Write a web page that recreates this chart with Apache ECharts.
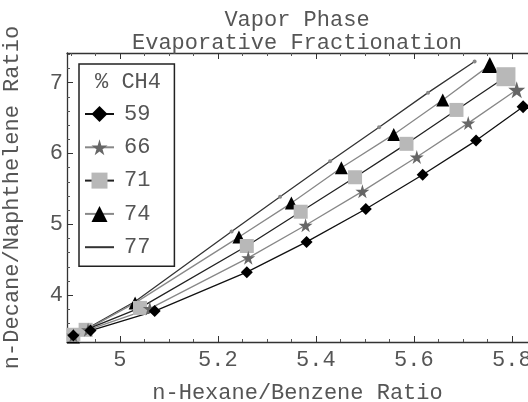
<!DOCTYPE html>
<html>
<head>
<meta charset="utf-8">
<script src="https://cdn.jsdelivr.net/npm/echarts@6/dist/echarts.min.js"></script>
<style>
  html, body { margin: 0; padding: 0; background: #fff; }
  #chart { width: 528px; height: 402px; }
</style>
</head>
<body>
<div id="chart"></div>
<script>
  // % CH4 groups
  const groups = ['59', '66', '71', '74', '77']

  // n-Hexane/Benzene ratio (x) and n-Decane/Naphthelene ratio (y)
  const hexane59 = [4.905, 4.94, 5.071, 5.259, 5.381, 5.502, 5.618, 5.727, 5.823]
  const decane59 = [3.43, 3.50, 3.775, 4.324, 4.752, 5.217, 5.700, 6.183, 6.662]

  const hexane66 = [4.905, 4.935, 5.061, 5.262, 5.379, 5.495, 5.606, 5.711, 5.810]
  const decane66 = [3.43, 3.51, 3.81, 4.527, 4.987, 5.466, 5.951, 6.430, 6.900]

  const hexane71 = [4.905, 4.93, 5.041, 5.259, 5.369, 5.480, 5.585, 5.687, 5.788]
  const decane71 = [3.44, 3.51, 3.82, 4.694, 5.178, 5.665, 6.137, 6.616, 7.085]

  const hexane74 = [4.905, 5.031, 5.243, 5.350, 5.452, 5.559, 5.659, 5.755]
  const decane74 = [3.41, 3.89, 4.820, 5.300, 5.800, 6.270, 6.756, 7.249]

  const hexane77 = [4.905, 5.031, 5.228, 5.327, 5.429, 5.529, 5.629, 5.724]
  const decane77 = [3.42, 3.91, 4.900, 5.390, 5.890, 6.370, 6.860, 7.300]

  const xTitle = 'n-Hexane/Benzene Ratio'
  const yTitle = 'n-Decane/Naphthelene Ratio'
  const titleLines = ['Vapor Phase', 'Evaporative Fractionation']
  const legendTitle = '% CH4'

  const zip = (xs, ys) => xs.map((x, i) => [x, ys[i]])
  const font = '"Liberation Mono", "DejaVu Sans Mono", monospace'
  const textColor = '#555'
  const star = 'path://M50,0 L61,35 L98,35 L68,57 L79,91 L50,70 L21,91 L32,57 L2,35 L39,35 Z'

  const sizeFn = (normal, last, n) => (v, p) => (p.dataIndex === n - 1 ? last : normal)

  const lineSeries = (name, xs, ys, lineColor, symbol, symColor, size, lastSize) => ({
    name: name,
    type: 'line',
    data: zip(xs, ys),
    symbol: symbol,
    symbolSize: sizeFn(size, lastSize, xs.length),
    showAllSymbol: true,
    lineStyle: { color: lineColor, width: 1.3 },
    itemStyle: { color: symColor },
    emphasis: { disabled: true },
    z: 3,
  })

  const axisCommon = {
    type: 'value',
    axisLine: { show: true, lineStyle: { color: '#333', width: 1.3 } },
    axisTick: { show: true, inside: true, length: 6, lineStyle: { color: '#333' } },
    minorTick: { show: true, length: 3, lineStyle: { color: '#555' } },
    splitLine: { show: false },
  }

  const chart = echarts.init(document.getElementById('chart'))
  const option = {
    animation: false,
    backgroundColor: '#fff',
    textStyle: { fontFamily: font },
    grid: { left: 67, right: 0, top: 53, bottom: 60, containLabel: false, outerBoundsMode: 'none' },
    xAxis: [
      Object.assign({}, axisCommon, {
        position: 'bottom',
        min: 4.892,
        max: 5.833,
        splitNumber: 5,
        minorTick: Object.assign({}, axisCommon.minorTick, { splitNumber: 4 }),
        axisLabel: {
          showMinLabel: false, showMaxLabel: false,
          fontSize: 22, color: textColor, fontFamily: font, margin: 7,
        },
        name: xTitle,
        nameLocation: 'middle',
        nameGap: 40,
        nameTextStyle: { fontSize: 22, color: textColor, fontFamily: font },
      }),
      Object.assign({}, axisCommon, {
        position: 'top',
        min: 4.892,
        max: 5.833,
        splitNumber: 5,
        minorTick: Object.assign({}, axisCommon.minorTick, { splitNumber: 4 }),
        axisLabel: { show: false },
      }),
    ],
    yAxis: [
      Object.assign({}, axisCommon, {
        position: 'left',
        min: 3.338,
        max: 7.42,
        splitNumber: 4,
        minorTick: Object.assign({}, axisCommon.minorTick, { splitNumber: 5 }),
        axisLabel: {
          showMinLabel: false, showMaxLabel: false,
          fontSize: 22, color: textColor, fontFamily: font, margin: 4,
        },
        name: yTitle,
        nameLocation: 'middle',
        nameGap: 44,
        nameTextStyle: { fontSize: 22, color: textColor, fontFamily: font },
      }),
    ],
    legend: {
      orient: 'vertical',
      left: 79,
      top: 64,
      padding: [39, 24, 8, 5],
      borderColor: '#222',
      borderWidth: 1.5,
      itemWidth: 29,
      itemHeight: 20,
      itemGap: 11.3,
      selectedMode: false,
      textStyle: { fontSize: 22, color: textColor, fontFamily: font, padding: [0, 0, 0, 5] },
      data: [
        { name: '59' }, { name: '66' }, { name: '71' }, { name: '74' },
        { name: '77', itemStyle: { opacity: 0 } },
      ],
    },
    graphic: [
      {
        type: 'text', x: 297, y: 20, z: 10,
        style: { text: titleLines[0], font: '22px ' + font, fill: textColor, align: 'center', verticalAlign: 'middle' },
      },
      {
        type: 'text', x: 297, y: 43, z: 10,
        style: { text: titleLines[1], font: '22px ' + font, fill: textColor, align: 'center', verticalAlign: 'middle' },
      },
      {
        type: 'text', x: 95, y: 82, z: 10,
        style: { text: legendTitle, font: '22px ' + font, fill: textColor, align: 'left', verticalAlign: 'middle' },
      },
    ],
    series: [
      lineSeries(groups[4], hexane77, decane77, '#333', 'circle', '#888', 4, 4),
      lineSeries(groups[3], hexane74, decane74, '#888', 'triangle', '#000', 13, 16),
      lineSeries(groups[2], hexane71, decane71, '#222', 'rect', '#b8b8b8', 14, 19),
      lineSeries(groups[1], hexane66, decane66, '#888', star, '#666', 14, 17),
      lineSeries(groups[0], hexane59, decane59, '#111', 'diamond', '#000', 12, 13),
    ],
  }
  chart.setOption(option)
</script>
</body>
</html>
